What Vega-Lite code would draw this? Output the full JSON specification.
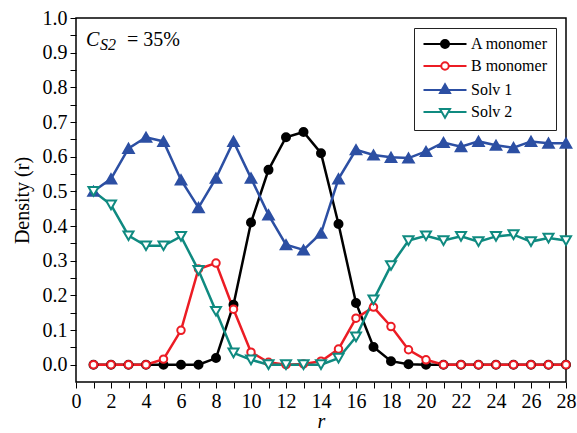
{
  "$schema": "https://vega.github.io/schema/vega-lite/v6.json",
  "width": 490,
  "height": 364,
  "autosize": {"type": "none"},
  "padding": {"left": 76, "top": 18, "right": 11, "bottom": 51},
  "background": "white",
  "config": {
    "view": {"stroke": "#000000", "strokeWidth": 1.5},
    "font": "Liberation Serif",
    "axis": {"labelFont": "Liberation Serif", "titleFont": "Liberation Serif", "labelColor": "#000000", "titleColor": "#000000", "tickColor": "#000000", "domain": false, "grid": false, "titleFontWeight": "normal", "labelFontSize": 20, "titleFontSize": 20, "labelOverlap": false, "labelFlush": false},
    "legend": {"title": null, "orient": "none", "legendX": 338, "legendY": 10, "strokeColor": "#222", "padding": 8, "fillColor": "white", "labelFont": "Liberation Serif", "labelFontSize": 16, "labelColor": "#000", "symbolSize": 100, "symbolStrokeWidth": 2, "symbolOpacity": 1, "symbolOffset": 15, "labelOffset": 18, "rowPadding": 6}
  },
  "datasets": {
    "dens": [
      {"r":1,"s":"A monomer","v":0},{"r":2,"s":"A monomer","v":0},{"r":3,"s":"A monomer","v":0},{"r":4,"s":"A monomer","v":0},
      {"r":5,"s":"A monomer","v":0},{"r":6,"s":"A monomer","v":0},{"r":7,"s":"A monomer","v":0},{"r":8,"s":"A monomer","v":0.019},
      {"r":9,"s":"A monomer","v":0.173},{"r":10,"s":"A monomer","v":0.41},{"r":11,"s":"A monomer","v":0.562},{"r":12,"s":"A monomer","v":0.656},
      {"r":13,"s":"A monomer","v":0.671},{"r":14,"s":"A monomer","v":0.61},{"r":15,"s":"A monomer","v":0.406},{"r":16,"s":"A monomer","v":0.178},
      {"r":17,"s":"A monomer","v":0.051},{"r":18,"s":"A monomer","v":0.01},{"r":19,"s":"A monomer","v":0.001},{"r":20,"s":"A monomer","v":0},
      {"r":21,"s":"A monomer","v":0},{"r":22,"s":"A monomer","v":0},{"r":23,"s":"A monomer","v":0},{"r":24,"s":"A monomer","v":0},
      {"r":25,"s":"A monomer","v":0},{"r":26,"s":"A monomer","v":0},{"r":27,"s":"A monomer","v":0},{"r":28,"s":"A monomer","v":0},

      {"r":1,"s":"B monomer","v":0},{"r":2,"s":"B monomer","v":0},{"r":3,"s":"B monomer","v":0},{"r":4,"s":"B monomer","v":0},
      {"r":5,"s":"B monomer","v":0.016},{"r":6,"s":"B monomer","v":0.099},{"r":7,"s":"B monomer","v":0.276},{"r":8,"s":"B monomer","v":0.293},
      {"r":9,"s":"B monomer","v":0.16},{"r":10,"s":"B monomer","v":0.036},{"r":11,"s":"B monomer","v":0.007},{"r":12,"s":"B monomer","v":0},
      {"r":13,"s":"B monomer","v":0.002},{"r":14,"s":"B monomer","v":0.01},{"r":15,"s":"B monomer","v":0.045},{"r":16,"s":"B monomer","v":0.134},
      {"r":17,"s":"B monomer","v":0.166},{"r":18,"s":"B monomer","v":0.11},{"r":19,"s":"B monomer","v":0.043},{"r":20,"s":"B monomer","v":0.014},
      {"r":21,"s":"B monomer","v":0},{"r":22,"s":"B monomer","v":0},{"r":23,"s":"B monomer","v":0},{"r":24,"s":"B monomer","v":0},
      {"r":25,"s":"B monomer","v":0},{"r":26,"s":"B monomer","v":0},{"r":27,"s":"B monomer","v":0},{"r":28,"s":"B monomer","v":0},

      {"r":1,"s":"Solv 1","v":0.5},{"r":2,"s":"Solv 1","v":0.536},{"r":3,"s":"Solv 1","v":0.624},{"r":4,"s":"Solv 1","v":0.656},
      {"r":5,"s":"Solv 1","v":0.644},{"r":6,"s":"Solv 1","v":0.533},{"r":7,"s":"Solv 1","v":0.453},{"r":8,"s":"Solv 1","v":0.538},
      {"r":9,"s":"Solv 1","v":0.644},{"r":10,"s":"Solv 1","v":0.538},{"r":11,"s":"Solv 1","v":0.432},{"r":12,"s":"Solv 1","v":0.346},
      {"r":13,"s":"Solv 1","v":0.331},{"r":14,"s":"Solv 1","v":0.379},{"r":15,"s":"Solv 1","v":0.536},{"r":16,"s":"Solv 1","v":0.62},
      {"r":17,"s":"Solv 1","v":0.605},{"r":18,"s":"Solv 1","v":0.598},{"r":19,"s":"Solv 1","v":0.596},{"r":20,"s":"Solv 1","v":0.615},
      {"r":21,"s":"Solv 1","v":0.641},{"r":22,"s":"Solv 1","v":0.629},{"r":23,"s":"Solv 1","v":0.644},{"r":24,"s":"Solv 1","v":0.633},
      {"r":25,"s":"Solv 1","v":0.626},{"r":26,"s":"Solv 1","v":0.644},{"r":27,"s":"Solv 1","v":0.639},{"r":28,"s":"Solv 1","v":0.639},

      {"r":1,"s":"Solv 2","v":0.5},{"r":2,"s":"Solv 2","v":0.461},{"r":3,"s":"Solv 2","v":0.372},{"r":4,"s":"Solv 2","v":0.343},
      {"r":5,"s":"Solv 2","v":0.343},{"r":6,"s":"Solv 2","v":0.37},{"r":7,"s":"Solv 2","v":0.272},{"r":8,"s":"Solv 2","v":0.154},
      {"r":9,"s":"Solv 2","v":0.034},{"r":10,"s":"Solv 2","v":0.014},{"r":11,"s":"Solv 2","v":0},{"r":12,"s":"Solv 2","v":0},
      {"r":13,"s":"Solv 2","v":0},{"r":14,"s":"Solv 2","v":0},{"r":15,"s":"Solv 2","v":0.019},{"r":16,"s":"Solv 2","v":0.08},
      {"r":17,"s":"Solv 2","v":0.187},{"r":18,"s":"Solv 2","v":0.286},{"r":19,"s":"Solv 2","v":0.358},{"r":20,"s":"Solv 2","v":0.372},
      {"r":21,"s":"Solv 2","v":0.358},{"r":22,"s":"Solv 2","v":0.37},{"r":23,"s":"Solv 2","v":0.355},{"r":24,"s":"Solv 2","v":0.37},
      {"r":25,"s":"Solv 2","v":0.375},{"r":26,"s":"Solv 2","v":0.355},{"r":27,"s":"Solv 2","v":0.365},{"r":28,"s":"Solv 2","v":0.358}
    ]
  },
  "encoding": {
    "x": {"field": "r", "type": "quantitative", "scale": {"domain": [0, 28], "nice": false, "zero": false},
      "axis": {"values": [0,1,2,3,4,5,6,7,8,9,10,11,12,13,14,15,16,17,18,19,20,21,22,23,24,25,26,27,28],
        "labelExpr": "datum.value % 2 === 0 ? datum.label : ''",
        "tickSize": 6, "tickWidth": 1, "tickColor": "#000000", "tickOpacity": 1,
        "labelPadding": 3, "title": "r", "titleFontStyle": "italic", "titlePadding": 0}},
    "y": {"field": "v", "type": "quantitative", "scale": {"domain": [-0.05, 1.0], "nice": false, "zero": false},
      "axis": {"values": [0,0.05,0.1,0.15,0.2,0.25,0.3,0.35,0.4,0.45,0.5,0.55,0.6,0.65,0.7,0.75,0.8,0.85,0.9,0.95,1.0],
        "format": ".1f",
        "labelExpr": "round(datum.value*100) % 10 === 0 ? datum.label : ''",
        "tickSize": 6, "tickWidth": 1, "tickColor": "#000000", "tickOpacity": 1,
        "labelPadding": 3, "title": "Density (r)", "titlePadding": 10}},
    "color": {"field": "s", "type": "nominal",
      "scale": {"domain": ["A monomer", "B monomer", "Solv 1", "Solv 2"], "range": ["#000000", "#ec1c24", "#2c4fa3", "#0f8a80"]},
      "legend": {"title": null, "orient": "none", "legendX": 338, "legendY": 10}}
  },
  "layer": [
    {
      "data": {"name": "dens"},
      "mark": {"type": "line", "strokeWidth": 2.5}
    },
    {
      "data": {"name": "dens"},
      "transform": [{"filter": {"field": "s", "equal": "A monomer"}}],
      "mark": {"type": "point", "shape": "circle", "filled": false, "fill": "#000000", "size": 64, "strokeWidth": 2, "opacity": 1}
    },
    {
      "data": {"name": "dens"},
      "transform": [{"filter": {"field": "s", "equal": "B monomer"}}],
      "mark": {"type": "point", "shape": "circle", "filled": false, "fill": "#ffffff", "size": 56, "strokeWidth": 2, "opacity": 1}
    },
    {
      "data": {"name": "dens"},
      "transform": [{"filter": {"field": "s", "equal": "Solv 1"}}],
      "mark": {"type": "point", "shape": "triangle-up", "filled": false, "fill": "#2c4fa3", "size": 110, "strokeWidth": 2, "opacity": 1}
    },
    {
      "data": {"name": "dens"},
      "transform": [{"filter": {"field": "s", "equal": "Solv 2"}}],
      "mark": {"type": "point", "shape": "triangle-down", "filled": false, "fill": "#ffffff", "size": 100, "strokeWidth": 2, "opacity": 1}
    },
    {
      "data": {"name": "dens"},
      "transform": [{"filter": "false"}],
      "mark": {"type": "point", "filled": false, "strokeWidth": 2},
      "encoding": {
        "shape": {"field": "s", "type": "nominal",
          "scale": {"domain": ["A monomer", "B monomer", "Solv 1", "Solv 2"], "range": [
            "M-4.3,0H4.3M0.8,0A0.8,0.8 0 1,1 -0.8,0A0.8,0.8 0 1,1 0.8,0Z",
            "M-4.3,0H-0.75M0.75,0H4.3M0.75,0A0.75,0.75 0 1,1 -0.75,0A0.75,0.75 0 1,1 0.75,0Z",
            "M-4.3,0H4.3M0,-1.15L1.0,0.58L-1.0,0.58Z",
            "M-4.3,0H-0.67M0.67,0H4.3M0,1.15L1.0,-0.58L-1.0,-0.58Z"]},
          "legend": {"title": null, "orient": "none", "legendX": 338, "legendY": 10}},
        "fill": {"field": "s", "type": "nominal",
          "scale": {"domain": ["A monomer", "B monomer", "Solv 1", "Solv 2"], "range": ["#000000", "#ffffff", "#2c4fa3", "#ffffff"]},
          "legend": {"title": null, "orient": "none", "legendX": 338, "legendY": 10}}
      }
    },
    {
      "data": {"values": [{"r": 0.57, "v": 0.919, "t": "C"}]},
      "mark": {"type": "text", "align": "left", "baseline": "alphabetic", "font": "Liberation Serif", "fontSize": 20, "fontStyle": "italic"},
      "encoding": {"text": {"field": "t"}, "color": {"value": "#000000"}}
    },
    {
      "data": {"values": [{"r": 0.57, "v": 0.919, "t": "S2"}]},
      "mark": {"type": "text", "align": "left", "baseline": "alphabetic", "font": "Liberation Serif", "fontSize": 16, "fontStyle": "italic", "dx": 14, "dy": 4},
      "encoding": {"text": {"field": "t"}, "color": {"value": "#000000"}}
    },
    {
      "data": {"values": [{"r": 0.57, "v": 0.919, "t": "= 35%"}]},
      "mark": {"type": "text", "align": "left", "baseline": "alphabetic", "font": "Liberation Serif", "fontSize": 20, "dx": 41},
      "encoding": {"text": {"field": "t"}, "color": {"value": "#000000"}}
    }
  ]
}
